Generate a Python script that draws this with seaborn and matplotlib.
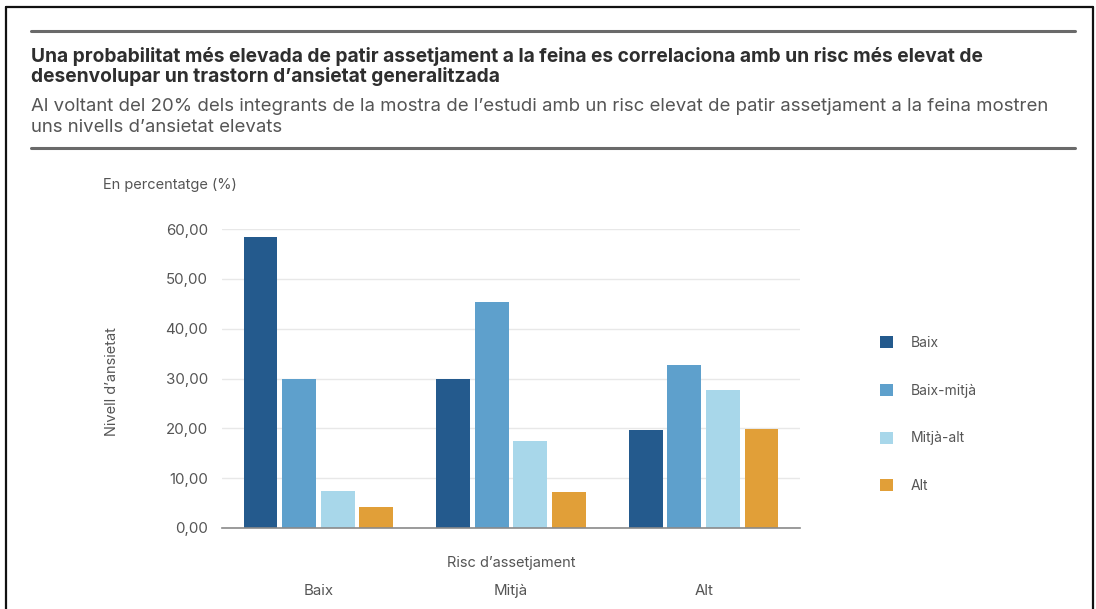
import matplotlib
matplotlib.use("Agg")
import matplotlib.pyplot as plt
from matplotlib.lines import Line2D
import seaborn as sns
import pandas as pd

# --- data -------------------------------------------------------------
risc = ["Baix", "Mitjà", "Alt"]
nivells = ["Baix", "Baix-mitjà", "Mitjà-alt", "Alt"]
valors_baix = [58.4, 29.9, 19.7]
valors_baix_mitja = [30.0, 45.4, 32.8]
valors_mitja_alt = [7.5, 17.4, 27.7]
valors_alt = [4.2, 7.3, 19.9]
colors = ["#245a8d", "#5ea0cc", "#a8d7ea", "#e19f38"]
y_ticks = [0, 10, 20, 30, 40, 50, 60]

title = ("Una probabilitat més elevada de patir assetjament a la feina es correlaciona amb un risc més elevat de\n"
         "desenvolupar un trastorn d’ansietat generalitzada")
subtitle = ("Al voltant del 20% dels integrants de la mostra de l’estudi amb un risc elevat de patir assetjament a la feina mostren\n"
            "uns nivells d’ansietat elevats")

rows = []
for nivell, vals in zip(nivells, [valors_baix, valors_baix_mitja, valors_mitja_alt, valors_alt]):
    for r, v in zip(risc, vals):
        rows.append({"risc": r, "nivell": nivell, "valor": v})
df = pd.DataFrame(rows)

# --- figure -----------------------------------------------------------
sns.set_theme(style="white")
plt.rcParams["font.family"] = ["Inter", "DejaVu Sans"]

W, H = 1096, 609
fig = plt.figure(figsize=(W / 100, H / 100), dpi=100)
fig.patch.set_facecolor("white")

def fx(px):
    return px / W

def fy(py):
    return 1 - py / H

ax = fig.add_axes([fx(222), fy(528), fx(800) - fx(222), fy(229) - fy(528)])

sns.barplot(data=df, x="risc", y="valor", hue="nivell", order=risc, hue_order=nivells,
            palette=colors, width=0.8, gap=0.12, errorbar=None, saturation=1,
            linewidth=0, ax=ax)

ax.set_xlim(-0.5, 2.5)
ax.set_ylim(0, 60)
ax.set_yticks(y_ticks)
ax.set_yticklabels([f"{t:.2f}".replace(".", ",") for t in y_ticks])
ax.yaxis.grid(True, color="#e8e8e8", lw=1)
ax.set_axisbelow(True)
for s in ["top", "right", "left"]:
    ax.spines[s].set_visible(False)
ax.spines["bottom"].set_color("#8a8a8a")
ax.spines["bottom"].set_linewidth(1.2)
ax.tick_params(axis="y", length=0, pad=10, labelsize=10.8, labelcolor="#555555")
ax.tick_params(axis="x", length=0, pad=40, labelsize=10.8, labelcolor="#555555")

ax.set_xlabel("Risc d’assetjament", fontsize=10.5, color="#555555")
ax.xaxis.set_label_coords(0.5, -0.093)
ax.set_ylabel("Nivell d’ansietat", fontsize=10.5, color="#555555")
ax.yaxis.set_label_coords(-0.178, 0.49)

handles, labels = ax.get_legend_handles_labels()
ax.get_legend().remove()
fig.legend(handles, labels, loc="upper left", bbox_to_anchor=(fx(880), fy(336)),
           frameon=False, fontsize=10, handlelength=0.95, handleheight=0.95,
           handletextpad=1.25, labelspacing=2.42, borderpad=0, borderaxespad=0,
           labelcolor="#555555")

fig.text(fx(103), fy(185), "En percentatge (%)", fontsize=10.5, color="#555555",
         ha="left", va="center")

# header text and rules
fig.text(fx(31), fy(47), title, fontsize=13.8, fontweight="bold", color="#2e2e2e",
         ha="left", va="top", linespacing=1.06)
fig.text(fx(31), fy(98), subtitle, fontsize=13.4, color="#555555",
         ha="left", va="top", linespacing=1.28)
for y in (31, 148):
    fig.add_artist(Line2D([fx(31), fx(1075)], [fy(y), fy(y)], color="#6a6a6a", lw=2.2))

# outer frame (left, top, right)
fig.add_artist(Line2D([fx(6), fx(6)], [0, fy(7)], color="#111111", lw=1.6))
fig.add_artist(Line2D([fx(6), fx(1093)], [fy(7), fy(7)], color="#111111", lw=1.6))
fig.add_artist(Line2D([fx(1093), fx(1093)], [0, fy(7)], color="#111111", lw=1.6))

fig.savefig("out.png", dpi=100, facecolor="white")
